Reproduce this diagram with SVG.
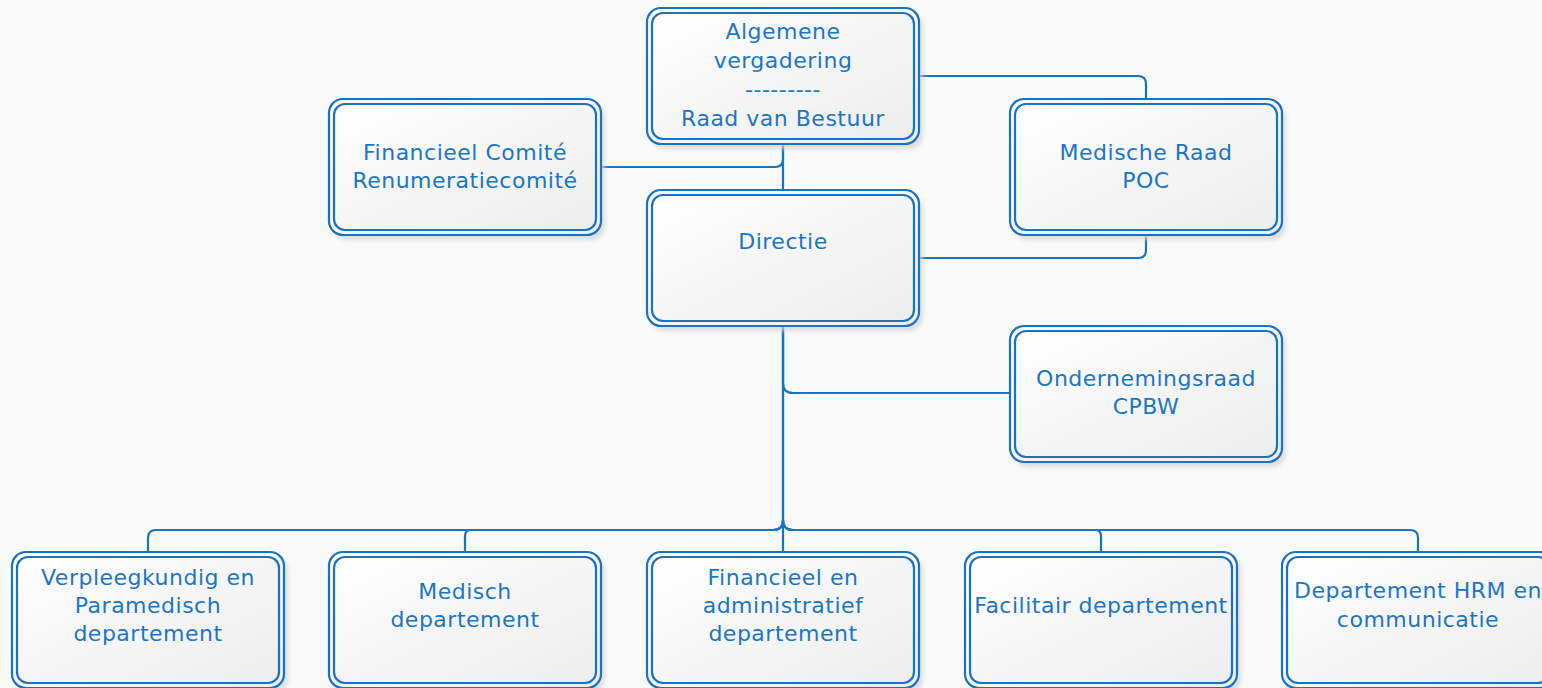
<svg xmlns="http://www.w3.org/2000/svg" xmlns:xlink="http://www.w3.org/1999/xlink" width="1542" height="688" viewBox="0 0 1542 688">
<style>
.outer{fill:url(#fillg);stroke:#1A72C2;stroke-width:2.2}
.inner{fill:none;stroke:#1A72C2;stroke-width:2.2}
.shadow{fill:#d4d4d4;filter:url(#blur);opacity:0.75}
.lbl{font-family:"DejaVu Sans","Liberation Sans",sans-serif;font-size:22px;letter-spacing:0.5px;fill:#1C76C6;text-anchor:middle}
.conn path{fill:none;stroke:#1A72C2;stroke-width:2.2}
</style>
<defs>
<linearGradient id="fillg" x1="0" y1="0" x2="1" y2="1">
<stop offset="0" stop-color="#ffffff"/>
<stop offset="1" stop-color="#ededee"/>
</linearGradient>
<filter id="blur" x="-10%" y="-10%" width="120%" height="130%">
<feGaussianBlur stdDeviation="2"/>
</filter>
<g id="box">
<rect class="shadow" x="4" y="5" width="272" height="136" rx="14"/>
<rect class="outer" x="0" y="0" width="272" height="136" rx="14"/>
<rect class="inner" x="5" y="5" width="262" height="126" rx="11"/>
</g>
</defs>
<rect width="1542" height="688" fill="#FAFAFA"/>
<g class="conn" id="connectors">
<path d="M783,144 V190"/>
<path d="M601,167 H775 Q783,167 783,159 V144"/>
<path d="M919,76 H1138 Q1146,76 1146,84 V99"/>
<path d="M1146,235 V250 Q1146,258 1138,258 H919"/>
<path d="M783,326 V383 Q783,393 793,393 H1010"/>
<path d="M783,326 V552"/>
<path d="M783,326 V520 Q783,530 773,530 H156 Q148,530 148,538 V552"/>
<path d="M783,520 Q783,530 773,530 H471 Q465,530 465,536 V552"/>
<path d="M783,520 Q783,530 793,530 H1095 Q1101,530 1101,536 V552"/>
<path d="M783,520 Q783,530 793,530 H1410 Q1418,530 1418,538 V552"/>
</g>
<g id="n-algemene">
<use xlink:href="#box" x="647" y="8"/>
<text class="lbl" x="783" y="39">Algemene</text>
<text class="lbl" x="783" y="68">vergadering</text>
<text class="lbl" x="783" y="97">---------</text>
<text class="lbl" x="783" y="126">Raad van Bestuur</text>
</g>
<g id="n-financieelcomite">
<use xlink:href="#box" x="329" y="99"/>
<text class="lbl" x="465" y="160">Financieel Comité</text>
<text class="lbl" x="465" y="188">Renumeratiecomité</text>
</g>
<g id="n-medischeraad">
<use xlink:href="#box" x="1010" y="99"/>
<text class="lbl" x="1146" y="160">Medische Raad</text>
<text class="lbl" x="1146" y="188">POC</text>
</g>
<g id="n-directie">
<use xlink:href="#box" x="647" y="190"/>
<text class="lbl" x="783" y="249">Directie</text>
</g>
<g id="n-ondernemingsraad">
<use xlink:href="#box" x="1010" y="326"/>
<text class="lbl" x="1146" y="386">Ondernemingsraad</text>
<text class="lbl" x="1146" y="414">CPBW</text>
</g>
<g id="n-verpleegkundig">
<use xlink:href="#box" x="12" y="552"/>
<text class="lbl" x="148" y="585">Verpleegkundig en</text>
<text class="lbl" x="148" y="613">Paramedisch</text>
<text class="lbl" x="148" y="641">departement</text>
</g>
<g id="n-medisch">
<use xlink:href="#box" x="329" y="552"/>
<text class="lbl" x="465" y="599">Medisch</text>
<text class="lbl" x="465" y="627">departement</text>
</g>
<g id="n-financieel">
<use xlink:href="#box" x="647" y="552"/>
<text class="lbl" x="783" y="585">Financieel en</text>
<text class="lbl" x="783" y="613">administratief</text>
<text class="lbl" x="783" y="641">departement</text>
</g>
<g id="n-facilitair">
<use xlink:href="#box" x="965" y="552"/>
<text class="lbl" x="1101" y="613">Facilitair departement</text>
</g>
<g id="n-hrm">
<use xlink:href="#box" x="1282" y="552"/>
<text class="lbl" x="1418" y="598">Departement HRM en</text>
<text class="lbl" x="1418" y="627">communicatie</text>
</g>
</svg>
